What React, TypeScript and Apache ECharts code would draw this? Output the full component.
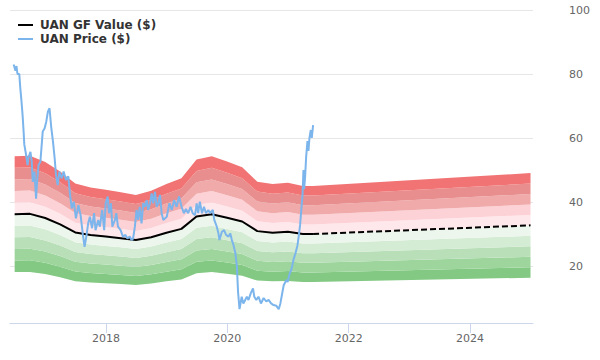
import React, { useEffect, useRef } from 'react';
import * as echarts from 'echarts';

// GF Value (quarterly nodes; last two define the dashed projection)
const gfDates = ['2016-06-30','2016-09-30','2016-12-31','2017-03-31','2017-06-30','2017-09-30','2017-12-31','2018-03-31','2018-06-30','2018-09-30','2018-12-31','2019-03-31','2019-06-30','2019-09-30','2019-12-31','2020-03-31','2020-06-30','2020-09-30','2020-12-31','2021-03-31','2021-06-01','2024-12-31'];
const gfValues = [36.2,36.3,35.0,33.0,30.5,29.7,29.2,28.7,28.1,29.0,30.4,31.6,35.5,36.2,35.1,33.9,30.9,30.4,30.7,30.0,30.0,32.7];
const gfSolidEndIndex = 20; // '2021-06-01'

// band multipliers of GF Value (lower edge 0.5, then ten 10% steps)
const bandBase = 0.5;
const bandStep = 0.1;
const bandColors = ['#83c983','#9dd59d','#b8dfb8','#d4ebd4','#edf6ed','#ffe8eb','#fdd2d7','#f0aaaa','#e88e8e','#f27373'];

const priceDates = ['2016-06-24','2016-06-28','2016-07-05','2016-07-11','2016-07-17','2016-07-28','2016-08-03','2016-08-11','2016-08-17','2016-08-23','2016-08-27','2016-09-06','2016-09-16','2016-09-21','2016-10-03','2016-10-11','2016-10-17','2016-10-27','2016-11-06','2016-11-12','2016-11-21','2016-12-02','2016-12-16','2016-12-27','2017-01-06','2017-01-16','2017-01-26','2017-02-05','2017-02-16','2017-02-26','2017-03-06','2017-03-16','2017-03-26','2017-04-09','2017-04-21','2017-05-05','2017-05-19','2017-06-01','2017-06-09','2017-06-21','2017-07-04','2017-07-19','2017-08-01','2017-08-15','2017-08-25','2017-09-06','2017-09-16','2017-09-26','2017-10-09','2017-10-21','2017-10-30','2017-11-15','2017-11-25','2017-12-09','2017-12-21','2017-12-30','2018-01-11','2018-01-19','2018-01-31','2018-02-08','2018-02-24','2018-03-04','2018-03-14','2018-03-30','2018-04-13','2018-04-28','2018-05-10','2018-05-24','2018-06-04','2018-06-13','2018-06-24','2018-07-04','2018-07-14','2018-07-23','2018-08-03','2018-08-13','2018-08-23','2018-09-03','2018-09-12','2018-09-23','2018-10-03','2018-10-12','2018-10-23','2018-11-02','2018-11-12','2018-11-22','2018-12-02','2018-12-12','2019-01-02','2019-01-18','2019-02-01','2019-02-15','2019-03-02','2019-03-17','2019-04-01','2019-04-15','2019-04-27','2019-05-11','2019-05-25','2019-06-07','2019-06-21','2019-07-01','2019-07-10','2019-07-20','2019-08-02','2019-08-14','2019-08-26','2019-09-09','2019-09-20','2019-10-06','2019-10-15','2019-10-30','2019-11-09','2019-11-15','2019-11-30','2019-12-13','2019-12-25','2020-01-09','2020-01-19','2020-01-29','2020-02-08','2020-02-19','2020-02-28','2020-03-06','2020-03-15','2020-03-28','2020-04-07','2020-04-18','2020-04-28','2020-05-08','2020-05-22','2020-06-04','2020-06-12','2020-06-24','2020-07-07','2020-07-22','2020-08-07','2020-08-23','2020-09-06','2020-09-21','2020-10-06','2020-10-22','2020-11-06','2020-11-16','2020-11-27','2020-12-06','2020-12-22','2020-12-30','2021-01-11','2021-01-20','2021-01-26','2021-02-03','2021-02-15','2021-02-27','2021-03-07','2021-03-15','2021-03-21','2021-03-29','2021-04-04','2021-04-08','2021-04-14','2021-04-20','2021-04-28','2021-05-04','2021-05-10','2021-05-18','2021-05-24','2021-06-01'];
const priceValues = [83,83,81,82.5,80,80,75.6,71,67,62,58,55,51.5,53.8,55.7,52.6,46.3,49.5,41,46.3,51.6,52.6,62,63,65,68.2,69.3,63.5,58.8,53.6,48.4,45.3,49.5,47.4,49.5,46.9,48,41.1,38,40.1,34.9,39,35.9,29.7,26,29.7,33.4,35.4,31.8,36.5,31.2,34.4,32.3,37.5,31.2,39.6,41.7,36.5,39.6,32.3,34.4,36.5,32.3,31.2,29.2,29.7,28.6,29.2,28.1,28.6,32.3,37.5,34.4,38.5,33.3,39.6,38.5,40.6,37.5,39.6,42.7,39.6,43.2,38.5,39.6,42.2,36.5,34.4,35.4,39.6,37.5,40.6,38.5,41.7,38.5,36.5,37.8,36.5,38.5,36.5,35.9,39.6,36.5,40.1,36.5,38.5,36.5,37.5,36.5,37.5,34.4,32.3,30.2,28.1,30.7,31.2,29.7,29.2,30.2,28.1,26.5,24,20,12,6.5,10.4,8.3,9.4,10.4,9.4,11.5,13,10.4,9.4,10.4,8.3,10,8.9,9.4,8.3,7.8,7.6,6.5,8.3,11.5,14,15.6,15,17.7,18.75,20,22,24,26.5,29.5,33,37,42,50,44,48,54,59,56,60,62.5,60,64];

const yTicks = [0, 20, 40, 60, 80, 100];
const GF_NAME = 'UAN GF Value ($)';
const PRICE_NAME = 'UAN Price ($)';

export default function App() {
  const ref = useRef<HTMLDivElement>(null);
  useEffect(() => {
    if (!ref.current) return;
    const chart = echarts.init(ref.current, null, { renderer: 'svg' });

    const baseSeries: any = {
      name: 'band-base',
      type: 'line',
      stack: 'band',
      symbol: 'none',
      silent: true,
      lineStyle: { width: 0, opacity: 0 },
      data: gfDates.map((d, i) => [d, gfValues[i] * bandBase]),
      z: 1,
    };
    const bandSeries: any[] = bandColors.map((c, k) => ({
      name: 'band-' + k,
      type: 'line',
      stack: 'band',
      symbol: 'none',
      silent: true,
      lineStyle: { width: 0, opacity: 0 },
      areaStyle: { color: c, opacity: 1 },
      data: gfDates.map((d, i) => [d, gfValues[i] * bandStep]),
      z: 1,
    }));

    const option: any = {
      animation: false,
      textStyle: { fontFamily: 'DejaVu Sans' },
      grid: { left: 10, right: 67, top: 10, bottom: 30 },
      legend: {
        orient: 'vertical',
        left: 18,
        top: 19,
        padding: 0,
        itemGap: 2,
        itemWidth: 15,
        itemHeight: 2,
        icon: 'rect',
        data: [GF_NAME, PRICE_NAME],
        textStyle: { fontSize: 12, fontWeight: 'bold', color: '#333', padding: [0, 0, 0, 2] },
      },
      xAxis: {
        type: 'time',
        min: '2016-06-02',
        max: '2025-01-15',
        offset: -7,
        minInterval: 2 * 365 * 86400000,
        maxInterval: 2 * 366 * 86400000,
        axisLine: { lineStyle: { color: '#ccd6eb' } },
        axisTick: { show: true, length: 10, lineStyle: { color: '#ccd6eb' } },
        axisLabel: {
          color: '#666',
          fontSize: 11,
          margin: 10,
          formatter: (v: number) => String(new Date(v).getFullYear()),
        },
        splitLine: { show: false },
      },
      yAxis: {
        type: 'value',
        position: 'right',
        min: yTicks[0],
        max: yTicks[yTicks.length - 1],
        interval: 20,
        axisLine: { show: false },
        axisTick: { show: false },
        axisLabel: {
          color: '#666',
          fontSize: 11,
          margin: 36,
          formatter: (v: number) => (v === 0 ? '' : String(v)),
        },
        splitLine: {
          lineStyle: { color: yTicks.map((t) => (t === 0 ? 'rgba(0,0,0,0)' : '#e6e6e6')) },
        },
      },
      series: [
        baseSeries,
        ...bandSeries,
        {
          name: GF_NAME,
          type: 'line',
          symbol: 'none',
          color: '#000',
          lineStyle: { color: '#000', width: 2 },
          data: gfDates.slice(0, gfSolidEndIndex + 1).map((d, i) => [d, gfValues[i]]),
          z: 3,
        },
        {
          name: GF_NAME,
          type: 'line',
          symbol: 'none',
          color: '#000',
          lineStyle: { color: '#000', width: 2, type: [6, 3] },
          data: gfDates.slice(gfSolidEndIndex).map((d, i) => [d, gfValues[gfSolidEndIndex + i]]),
          z: 3,
        },
        {
          name: PRICE_NAME,
          type: 'line',
          symbol: 'none',
          color: '#7cb5ec',
          lineStyle: { color: '#7cb5ec', width: 2 },
          data: priceDates.map((d, i) => [d, priceValues[i]]),
          z: 4,
        },
      ],
    };
    chart.setOption(option);
    return () => chart.dispose();
  }, []);
  return <div ref={ref} style={{ position: 'absolute', left: 0, top: 0, width: 600, height: 360 }} />;
}
